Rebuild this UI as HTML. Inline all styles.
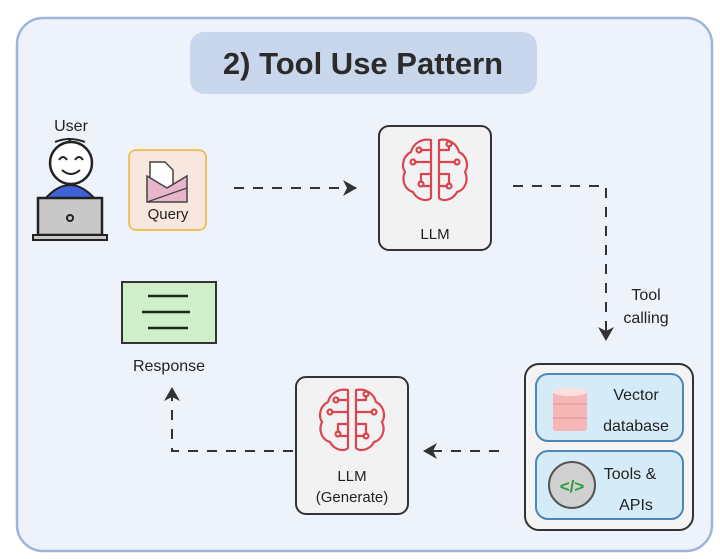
<!DOCTYPE html>
<html><head><style>
body{margin:0;width:720px;height:559px;background:#fff;overflow:hidden;font-family:"Comic Sans MS","Liberation Sans",sans-serif;}
svg{position:absolute;left:0;top:0}
</style></head><body>
<svg width="720" height="559" viewBox="0 0 720 559" xmlns="http://www.w3.org/2000/svg">
<defs>
<g id="brain" fill="none" stroke="#d9464f" stroke-width="2.2" stroke-linejoin="round" stroke-linecap="round">
<path d="M-4,-30 C-14,-32 -22,-26 -24,-18 C-32,-14 -34,-4 -30,2 C-34,10 -30,20 -22,22 C-18,30 -8,32 -4,28 Z"/>
<path d="M4,-30 C14,-32 22,-26 24,-18 C32,-14 34,-4 30,2 C34,10 30,20 22,22 C18,30 8,32 4,28 Z"/>
<path d="M-4,-20 h-10 M-4,-8 h-16 M-4,4 h-10 v8 M-4,16 h-8"/>
<path d="M4,-20 h10 v-4 M4,-8 h16 M4,4 h10 v10 M4,16 h8"/>
<circle cx="-16" cy="-20" r="2.5"/><circle cx="-22" cy="-8" r="2.5"/><circle cx="-14" cy="14" r="2.5"/>
<circle cx="14" cy="-26" r="2.5"/><circle cx="22" cy="-8" r="2.5"/><circle cx="14" cy="16" r="2.5"/>
</g>
<marker id="ah" markerWidth="16" markerHeight="16" refX="13" refY="8" orient="auto" markerUnits="userSpaceOnUse"><path d="M0,0 L14,8 L0,16 L4,8 Z" fill="#333"/></marker>
</defs>
<rect x="17" y="18" width="695" height="533" rx="26" fill="#eef3fb" stroke="#9db5dc" stroke-width="2.5"/>
<rect x="190" y="32" width="347" height="62" rx="14" fill="#c9d7ed"/>
<text x="363" y="74" text-anchor="middle" font-size="31" font-weight="bold" fill="#2b2b2b">2) Tool Use Pattern</text>

<text x="71" y="131" text-anchor="middle" font-size="16" fill="#222">User</text>
<path d="M55,142 q14,-6 30,0 M68,138 l4,6" stroke="#222" stroke-width="2" fill="none"/>
<path d="M44,200 q26,-30 52,0 Z" fill="#3f63d6" stroke="#222" stroke-width="2"/>
<circle cx="71" cy="163" r="21" fill="#fff" stroke="#222" stroke-width="2.5"/>
<path d="M59,160 q4,-6 8,0 M75,160 q4,-6 8,0 M62,170 q9,8 18,0" stroke="#222" stroke-width="2" fill="none"/>
<rect x="38" y="198" width="64" height="37" fill="#c8c8c8" stroke="#222" stroke-width="2.5"/>
<rect x="33" y="235" width="74" height="5" fill="#c8c8c8" stroke="#222" stroke-width="2"/>
<circle cx="70" cy="218" r="3" fill="none" stroke="#222" stroke-width="2"/>

<rect x="129" y="150" width="77" height="80" rx="7" fill="#f8e7df" stroke="#f0c25c" stroke-width="2"/>
<path d="M150,162 h15 l8,8 v20 h-23 Z" fill="#fff" stroke="#444" stroke-width="1.5"/>
<path d="M147,176 l20,12 l20,-12 v26 h-40 Z" fill="#e9b5cb" stroke="#444" stroke-width="1.5"/>
<path d="M147,202 l40,-14" stroke="#444" stroke-width="1.2" fill="none"/>
<text x="168" y="219" text-anchor="middle" font-size="15" fill="#222">Query</text>

<line x1="234" y1="188" x2="356" y2="188" stroke="#333" stroke-width="2" stroke-dasharray="10,9" marker-end="url(#ah)"/>
<path d="M513,186 H606 V340" stroke="#333" stroke-width="2" fill="none" stroke-dasharray="10,9" marker-end="url(#ah)"/>
<text x="646" y="300" text-anchor="middle" font-size="16" fill="#222">Tool</text>
<text x="646" y="323" text-anchor="middle" font-size="16" fill="#222">calling</text>
<line x1="499" y1="451" x2="424" y2="451" stroke="#333" stroke-width="2" stroke-dasharray="10,9" marker-end="url(#ah)"/>
<path d="M293,451 H172 V388" stroke="#333" stroke-width="2" fill="none" stroke-dasharray="10,9" marker-end="url(#ah)"/>

<rect x="379" y="126" width="112" height="124" rx="10" fill="#f2f2f2" stroke="#333" stroke-width="2"/>
<use href="#brain" transform="translate(435,170)"/>
<text x="435" y="239" text-anchor="middle" font-size="15" fill="#222">LLM</text>

<rect x="122" y="282" width="94" height="61" fill="#cfefc9" stroke="#333" stroke-width="2"/>
<path d="M148,296 h40 M142,312 h48 M148,328 h40" stroke="#222" stroke-width="2.5"/>
<text x="169" y="371" text-anchor="middle" font-size="16" fill="#222">Response</text>

<rect x="296" y="377" width="112" height="137" rx="10" fill="#f2f2f2" stroke="#333" stroke-width="2"/>
<use href="#brain" transform="translate(352,420)"/>
<text x="352" y="481" text-anchor="middle" font-size="15" fill="#222">LLM</text>
<text x="352" y="502" text-anchor="middle" font-size="15" fill="#222">(Generate)</text>

<rect x="525" y="364" width="168" height="166" rx="14" fill="#f4f4f4" stroke="#333" stroke-width="2"/>
<rect x="536" y="374" width="147" height="67" rx="12" fill="#d6ebf8" stroke="#4d86b8" stroke-width="2"/>
<rect x="536" y="451" width="147" height="68" rx="12" fill="#d6ebf8" stroke="#4d86b8" stroke-width="2"/>
<rect x="553" y="391" width="34" height="40" rx="3" fill="#f6b7b7"/>
<ellipse cx="570" cy="392" rx="17" ry="4" fill="#fce0e0"/>
<path d="M553,404 h34 M553,418 h34" stroke="#e08f8f" stroke-width="1"/>
<text x="636" y="400" text-anchor="middle" font-size="16" fill="#222">Vector</text>
<text x="636" y="431" text-anchor="middle" font-size="16" fill="#222">database</text>
<circle cx="572" cy="485" r="23" fill="#d0d0d0" stroke="#555" stroke-width="2"/>
<text x="572" y="492" text-anchor="middle" font-size="17" fill="#2f9b3a" font-weight="bold">&lt;/&gt;</text>
<text x="630" y="479" text-anchor="middle" font-size="16" fill="#222">Tools &amp;</text>
<text x="636" y="510" text-anchor="middle" font-size="16" fill="#222">APIs</text>
</svg>
</body></html>
